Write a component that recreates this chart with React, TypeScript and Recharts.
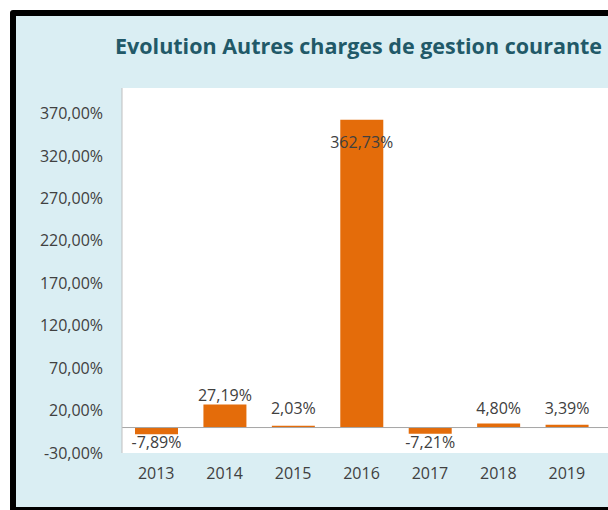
import { BarChart, Bar, XAxis, YAxis, CartesianGrid, ReferenceLine, LabelList } from 'recharts'

const years = ['2013', '2014', '2015', '2016', '2017', '2018', '2019']
const evolution = [-7.89, 27.19, 2.03, 362.73, -7.21, 4.8, 3.39]
const yTicks = [-30, 20, 70, 120, 170, 220, 270, 320, 370]
const yDomain = [-30, 400]
const title = 'Evolution Autres charges de gestion courante'

const data = years.map((year, i) => ({ year, value: evolution[i] }))

const FONT = '"Open Sans", sans-serif'
const TEXT = '#404040'

const pct = (v: number) => v.toFixed(2).replace('.', ',') + '%'

// outside end for normal bars, inside for the very tall one, kept clear of the zero line
function ValueLabel(props: any) {
  const { x, y, width, height, value } = props
  const top = Math.min(y, y + height)
  const bottom = Math.max(y, y + height)
  let ty: number
  if (value < 0) ty = bottom + 14
  else if (bottom - top > 200) ty = top + 28
  else ty = Math.min(top - 3, bottom - 14)
  return (
    <text x={x + width / 2} y={ty} textAnchor="middle" fill={TEXT} fontSize={16} fontFamily={FONT}>
      {pct(value)}
    </text>
  )
}

export default function App() {
  return (
    <div style={{ position: 'fixed', left: 0, top: 0, width: 608, height: 510, overflow: 'hidden', background: '#fff' }}>
      <div
        style={{
          position: 'absolute',
          left: 10,
          top: 10,
          width: 700,
          height: 503,
          boxSizing: 'border-box',
          border: '6px solid #000',
          borderRadius: 3,
          background: '#DAEEF3',
        }}
      />
      <svg width={608} height={80} style={{ position: 'absolute', left: 0, top: 0 }}>
        <text x={115} y={54} fill="#215968" fontSize={21.5} fontWeight="bold" fontFamily={FONT}>
          {title}
        </text>
      </svg>
      <div style={{ position: 'absolute', left: 0, top: 0 }}>
        <BarChart width={608} height={510} data={data} margin={{ top: 88, right: 0, bottom: 0, left: 0 }}>
          <CartesianGrid horizontal={false} vertical={false} fill="#fff" />
          <XAxis
            dataKey="year"
            height={57}
            axisLine={false}
            tickLine={false}
            tickMargin={9}
            padding={{ left: 0, right: 7 }}
            tick={{ fill: TEXT, fontSize: 16, fontFamily: FONT }}
          />
          <YAxis
            width={122}
            domain={yDomain}
            ticks={yTicks}
            interval={0}
            allowDataOverflow
            tickLine={false}
            tickMargin={13}
            axisLine={{ stroke: '#BFBFBF' }}
            tickFormatter={pct}
            tick={{ fill: TEXT, fontSize: 16, fontFamily: FONT }}
          />
          <ReferenceLine y={0} stroke="#A6A6A6" />
          <Bar dataKey="value" fill="#E46C0A" barSize={43} isAnimationActive={false}>
            <LabelList dataKey="value" content={ValueLabel} />
          </Bar>
        </BarChart>
      </div>
    </div>
  )
}
